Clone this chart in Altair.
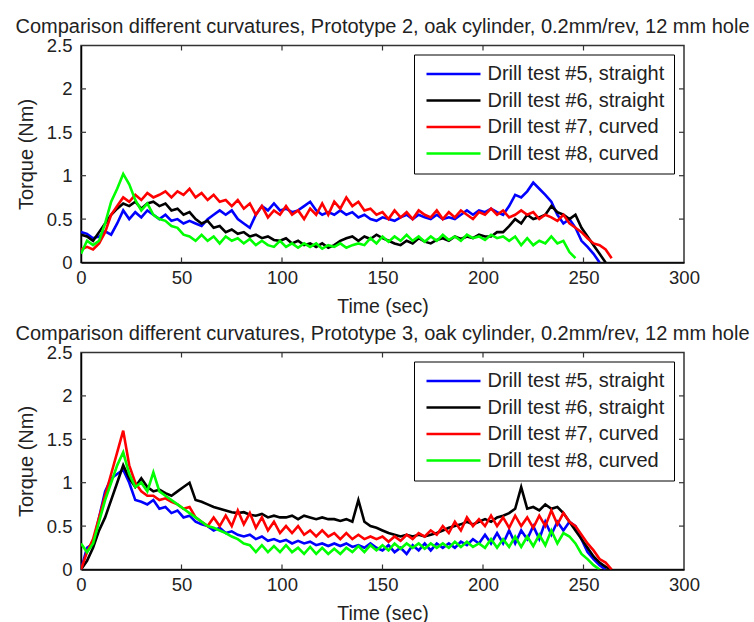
import altair as alt
import pandas as pd

SERIES = ["Drill test #5, straight", "Drill test #6, straight",
          "Drill test #7, curved", "Drill test #8, curved"]
COLORS = ["#0000ff", "#000000", "#ff0000", "#00ff00"]
TITLES = [
    "Comparison different curvatures, Prototype 2, oak cylinder, 0.2mm/rev, 12 mm hole",
    "Comparison different curvatures, Prototype 3, oak cylinder, 0.2mm/rev, 12 mm hole",
]
STEP = 3  # seconds between samples

# ---- Prototype 2 ----
P2_T5 = [0.35, 0.33, 0.28, 0.3, 0.36, 0.32, 0.45, 0.6, 0.5, 0.58, 0.52, 0.6, 0.55, 0.5, 0.55, 0.48,
         0.5, 0.45, 0.48, 0.45, 0.42, 0.5, 0.55, 0.6, 0.55, 0.6, 0.5, 0.45, 0.4, 0.55, 0.65, 0.6,
         0.68, 0.6, 0.62, 0.58, 0.6, 0.65, 0.7, 0.6, 0.55, 0.58, 0.55, 0.6, 0.55, 0.58, 0.52, 0.55,
         0.5, 0.48, 0.52, 0.5, 0.48, 0.52, 0.55, 0.5, 0.55, 0.52, 0.5, 0.55, 0.5, 0.52, 0.5, 0.55,
         0.6, 0.55, 0.6, 0.58, 0.62, 0.58, 0.55, 0.65, 0.78, 0.75, 0.82, 0.92, 0.85, 0.78, 0.7, 0.55,
         0.45, 0.5, 0.4, 0.25, 0.18, 0.1, 0.0]
P2_T6 = [0.32, 0.3, 0.25, 0.35, 0.45, 0.55, 0.62, 0.68, 0.65, 0.7, 0.62, 0.68, 0.7, 0.65, 0.68, 0.6,
         0.62, 0.55, 0.58, 0.5, 0.45, 0.48, 0.4, 0.42, 0.35, 0.38, 0.33, 0.35, 0.3, 0.32, 0.28, 0.3,
         0.26, 0.25, 0.28, 0.22, 0.25, 0.2, 0.22, 0.18, 0.22, 0.17, 0.2, 0.25, 0.28, 0.3, 0.25, 0.3,
         0.27, 0.32, 0.28, 0.25, 0.22, 0.2, 0.25, 0.22, 0.28, 0.24, 0.22, 0.26, 0.28, 0.25, 0.3, 0.27,
         0.3, 0.28, 0.32, 0.3, 0.3, 0.35, 0.35, 0.42, 0.5, 0.45, 0.55, 0.5, 0.52, 0.55, 0.65, 0.58,
         0.55, 0.5, 0.55, 0.4, 0.3, 0.2, 0.1, 0.0]
P2_T7 = [0.15, 0.18, 0.15, 0.22, 0.35, 0.55, 0.65, 0.75, 0.7, 0.78, 0.72, 0.8, 0.75, 0.78, 0.82, 0.75,
         0.82, 0.78, 0.85, 0.75, 0.8, 0.72, 0.78, 0.7, 0.72, 0.65, 0.72, 0.62, 0.68, 0.55, 0.65, 0.52,
         0.6, 0.55, 0.65, 0.55, 0.6, 0.5, 0.62, 0.55, 0.68, 0.55, 0.7, 0.62, 0.75, 0.65, 0.7, 0.6,
         0.62, 0.55, 0.58, 0.5, 0.6, 0.52, 0.58, 0.5, 0.6, 0.55, 0.52, 0.6, 0.5, 0.58, 0.52, 0.6,
         0.55, 0.5, 0.58, 0.55, 0.62, 0.55, 0.6, 0.52, 0.55, 0.6, 0.55, 0.58, 0.5, 0.55, 0.52, 0.48,
         0.55, 0.45, 0.4, 0.35, 0.28, 0.22, 0.2, 0.15, 0.05]
P2_T8 = [0.1, 0.25, 0.2, 0.25, 0.45, 0.7, 0.85, 1.02, 0.9, 0.72, 0.6, 0.68, 0.55, 0.5, 0.48, 0.42,
         0.4, 0.32, 0.3, 0.25, 0.32, 0.25, 0.3, 0.22, 0.3, 0.25, 0.28, 0.22, 0.27, 0.2, 0.25, 0.2,
         0.18, 0.25, 0.18, 0.22, 0.17, 0.22, 0.18, 0.22, 0.16, 0.2, 0.18, 0.22, 0.17, 0.2, 0.22, 0.2,
         0.28, 0.22, 0.3, 0.24, 0.3, 0.25, 0.32, 0.25, 0.3, 0.24, 0.3, 0.25, 0.32, 0.26, 0.3, 0.25,
         0.32, 0.28, 0.3, 0.26, 0.32, 0.28, 0.3, 0.25, 0.3, 0.2, 0.28, 0.2, 0.25, 0.22, 0.3, 0.22,
         0.25, 0.12, 0.05]

# ---- Prototype 3 ----
P3_T5 = [0.0, 0.25, 0.3, 0.6, 0.9, 1.05, 1.1, 1.15, 1.0, 0.8, 0.78, 0.75, 0.8, 0.7, 0.72, 0.65,
         0.68, 0.6, 0.62, 0.55, 0.52, 0.5, 0.45, 0.48, 0.42, 0.44, 0.4, 0.38, 0.4, 0.35, 0.38, 0.33,
         0.35, 0.32, 0.34, 0.3, 0.33, 0.3, 0.32, 0.28, 0.3, 0.27, 0.3, 0.27, 0.3, 0.26, 0.28, 0.25,
         0.3, 0.25, 0.22, 0.28, 0.2, 0.25, 0.18, 0.28, 0.22, 0.3, 0.22, 0.3, 0.25, 0.3, 0.25, 0.32,
         0.28, 0.35, 0.3, 0.4, 0.3, 0.42, 0.3, 0.45, 0.3, 0.45, 0.35, 0.5, 0.35, 0.55, 0.4, 0.55,
         0.45, 0.55, 0.5, 0.35, 0.2, 0.12, 0.05, 0.0]
P3_T6 = [0.0, 0.1, 0.25, 0.45, 0.6, 0.8, 1.0, 1.2, 1.05, 0.95, 1.05, 0.95, 0.9, 0.92, 0.88, 0.85,
         0.9, 0.95, 1.0, 0.8, 0.78, 0.75, 0.72, 0.7, 0.68, 0.66, 0.65, 0.66, 0.63, 0.62, 0.64, 0.6,
         0.62, 0.6, 0.6, 0.62, 0.58, 0.62, 0.6, 0.58, 0.6, 0.58, 0.58, 0.56, 0.58, 0.55, 0.8, 0.55,
         0.5, 0.48, 0.45, 0.42, 0.4, 0.38, 0.4, 0.38, 0.4, 0.38, 0.4, 0.42, 0.45, 0.48, 0.5, 0.52,
         0.55, 0.52, 0.55, 0.58, 0.55, 0.6, 0.62, 0.65, 0.7, 0.95, 0.7, 0.72, 0.68, 0.75, 0.7, 0.72,
         0.65, 0.55, 0.45, 0.35, 0.25, 0.15, 0.08, 0.03, 0.0]
P3_T7 = [0.0, 0.2, 0.35, 0.6, 0.85, 1.1, 1.35, 1.6, 1.2, 1.0, 0.9, 0.85, 0.85, 0.8, 0.82, 0.78,
         0.75, 0.7, 0.72, 0.6, 0.55, 0.5, 0.6, 0.5, 0.62, 0.5, 0.68, 0.52, 0.65, 0.48, 0.6, 0.45,
         0.55, 0.42, 0.5, 0.42, 0.5, 0.4, 0.45, 0.38, 0.45, 0.38, 0.42, 0.35, 0.42, 0.35, 0.4, 0.35,
         0.38, 0.35, 0.38, 0.32, 0.38, 0.33, 0.4, 0.35, 0.42, 0.38, 0.45, 0.4, 0.5, 0.42, 0.55, 0.45,
         0.6, 0.5, 0.58, 0.5, 0.62, 0.5, 0.6, 0.48, 0.62, 0.5, 0.6, 0.48, 0.62, 0.5, 0.68, 0.52,
         0.65, 0.55, 0.5, 0.4, 0.3, 0.22, 0.12, 0.08, 0.0]
P3_T8 = [0.3, 0.2, 0.3, 0.55, 0.8, 1.0, 1.2, 1.35, 1.1, 0.95, 1.0, 0.9, 1.12, 0.9, 0.85, 0.8,
         0.75, 0.7, 0.65, 0.6, 0.55, 0.5, 0.48, 0.45, 0.42, 0.38, 0.35, 0.3, 0.28, 0.2, 0.28, 0.2,
         0.27, 0.2, 0.28, 0.2, 0.25, 0.18, 0.26, 0.18, 0.25, 0.18, 0.24, 0.18, 0.25, 0.2, 0.27, 0.2,
         0.28, 0.22, 0.28, 0.22, 0.3, 0.24, 0.3, 0.25, 0.3, 0.24, 0.3, 0.25, 0.3, 0.25, 0.32, 0.26,
         0.32, 0.26, 0.3, 0.25, 0.35, 0.25, 0.35, 0.26, 0.38, 0.26, 0.38, 0.27, 0.4, 0.28, 0.45, 0.3,
         0.42, 0.38, 0.3, 0.18, 0.12, 0.05, 0.0]

X_TICKS = [0, 50, 100, 150, 200, 250, 300]
Y_TICKS = [0, 0.5, 1, 1.5, 2, 2.5]
X_INNER = [50, 100, 150, 200, 250]
Y_INNER = [0.5, 1, 1.5, 2]

W, H = 603, 217
FONT = "Liberation Sans"
TXT = "#222222"
TICK_LEN = 5


def panel(series_lists, title):
    rows = []
    for name, vals in zip(SERIES, series_lists):
        for i, v in enumerate(vals):
            rows.append({"t": i * STEP, "torque": v, "test": name})
    df = pd.DataFrame(rows)

    xscale = alt.Scale(domain=[0, 300], nice=False, zero=False)
    yscale = alt.Scale(domain=[0, 2.5], nice=False)

    lines = alt.Chart(df).mark_line(strokeWidth=2.6, clip=True).encode(
        x=alt.X("t:Q", scale=xscale, axis=alt.Axis(
            values=X_TICKS, format="d", title="Time (sec)", grid=False,
            ticks=False, tickSize=0, labelPadding=6, labelFontSize=18.5,
            labelColor=TXT, labelFont=FONT, labelFlush=False, labelOverlap=False,
            domainColor="black", domainWidth=1.5,
            titleFontSize=19.5, titleFont=FONT, titleFontWeight="normal",
            titleColor=TXT, titlePadding=10)),
        y=alt.Y("torque:Q", scale=yscale, axis=alt.Axis(
            values=Y_TICKS, format="~g", title="Torque (Nm)", grid=False,
            ticks=False, tickSize=0, labelPadding=9, labelFontSize=18.5,
            labelColor=TXT, labelFont=FONT, labelFlush=False, labelOverlap=False,
            domainColor="black", domainWidth=1.5,
            titleFontSize=20, titleFont=FONT, titleFontWeight="normal",
            titleColor=TXT, titlePadding=10)),
        color=alt.Color("test:N", scale=alt.Scale(domain=SERIES, range=COLORS),
                        legend=alt.Legend(
                            orient="none", legendX=333, legendY=9, title=None,
                            symbolType="M-1.4,0H9.4", symbolSize=100, symbolStrokeWidth=2.4,
                            labelFontSize=20, labelFont=FONT, labelColor=TXT,
                            labelLimit=0, labelOffset=44,
                            strokeColor="black", fillColor="white",
                            padding=9.5, rowPadding=6.5)),
        order="t:Q",
    )

    xt = pd.DataFrame({"v": X_INNER})
    yt = pd.DataFrame({"v": Y_INNER})
    tick_style = dict(color="#333333", strokeWidth=1.2)
    xb = alt.Chart(xt).mark_rule(**tick_style).encode(
        x=alt.X("v:Q", scale=xscale), y=alt.value(H - TICK_LEN), y2=alt.value(H))
    xtop = alt.Chart(xt).mark_rule(**tick_style).encode(
        x=alt.X("v:Q", scale=xscale), y=alt.value(0), y2=alt.value(TICK_LEN))
    yl = alt.Chart(yt).mark_rule(**tick_style).encode(
        y=alt.Y("v:Q", scale=yscale), x=alt.value(0), x2=alt.value(TICK_LEN))
    yr = alt.Chart(yt).mark_rule(**tick_style).encode(
        y=alt.Y("v:Q", scale=yscale), x=alt.value(W - TICK_LEN), x2=alt.value(W))

    return alt.layer(xb, xtop, yl, yr, lines).properties(
        width=W, height=H,
        title=alt.TitleParams(text=title, fontSize=20, font=FONT, fontWeight="normal",
                              color=TXT, frame="group", anchor="middle",
                              baseline="alphabetic", offset=-16.5),
    )


top = panel([P2_T5, P2_T6, P2_T7, P2_T8], TITLES[0])
bottom = panel([P3_T5, P3_T6, P3_T7, P3_T8], TITLES[1])

chart = alt.vconcat(top, bottom, spacing=90, bounds="flush").resolve_scale(
    color="independent"
).properties(
    padding={"left": 14, "top": 15.5, "right": 0, "bottom": 3},
    background="white",
).configure_view(stroke="#333333", strokeWidth=1.5)

chart.save("out.html", embed_options={"renderer": "svg", "actions": False})
